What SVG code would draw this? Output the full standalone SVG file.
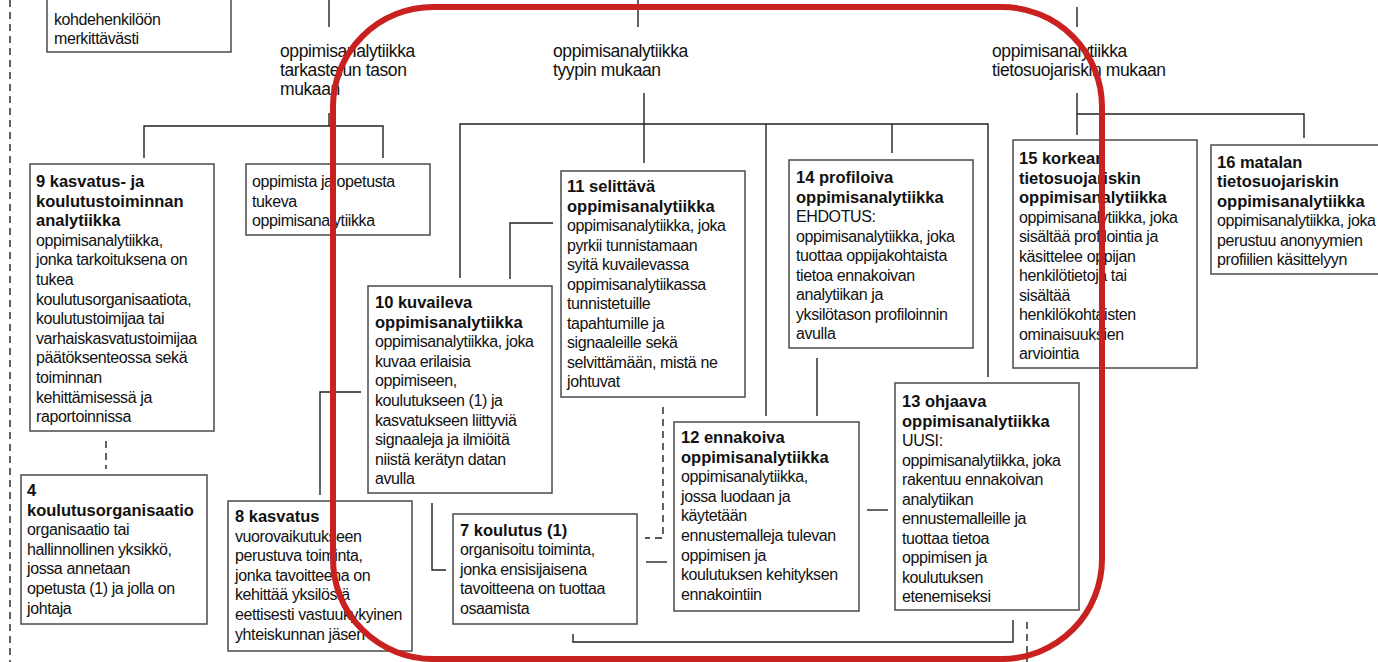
<svg xmlns="http://www.w3.org/2000/svg" width="1378" height="662" viewBox="0 0 1378 662">
<style>
text { font-family: "Liberation Sans", Arial, sans-serif; font-size: 16px; letter-spacing: -0.4px; fill: #111; }
.lbl { font-size: 17.5px; }
.b { font-weight: bold; font-size: 16.5px; letter-spacing: 0px; }
.box { fill: #fff; stroke: #4a4a4a; stroke-width: 1.5; }
.ln { fill: none; stroke: #222; stroke-width: 1.4; }
.d { fill: none; stroke: #222; stroke-width: 1.4; stroke-dasharray: 7 5; }
.red { fill: none; stroke: #c8211f; stroke-width: 6; }
</style>
<rect width="1378" height="662" fill="#fff"/>
<g id="connectors">
<path class="d" d="M10,0 V662"/>
<path class="ln" d="M329,0 V27"/>
<path class="ln" d="M329,113 V126 M144,158 V126 H383 V158"/>
<path class="ln" d="M638,0 V27"/>
<path class="ln" d="M644,93 V163 M460,278 V124 H988 V377 M766,124 V416 M892,124 V153"/>
<path class="ln" d="M1077,7 V27 M1077,93 V135 M1077,114 H1304 V138"/>
<path class="ln" d="M553,223 H510 V279"/>
<path class="ln" d="M361,392 H320 V495"/>
<path class="ln" d="M432,503 V570 H446"/>
<path class="d" d="M663,407 V538 H645"/>
<path class="ln" d="M646,562 H667"/>
<path class="ln" d="M817,358 V416"/>
<path class="ln" d="M867,510 H888"/>
<path class="ln" d="M573,634 V642 H1013 V620"/>
<path class="d" d="M1027,622 V662"/>
<path class="d" d="M106,441 V469"/>
</g>
<g id="node-top">
<rect class="box" x="47" y="-5" width="184" height="57"/>
<text x="54" y="25">kohdehenkilöön<tspan x="54" dy="19">merkittävästi</tspan></text>
</g>
<g id="label-taso">
<text class="lbl" x="280" y="56.5">oppimisanalytiikka<tspan x="280" dy="19">tarkastelun tason</tspan><tspan x="280" dy="19">mukaan</tspan></text>
</g>
<g id="label-tyyppi">
<text class="lbl" x="553" y="56.5">oppimisanalytiikka<tspan x="553" dy="19">tyypin mukaan</tspan></text>
</g>
<g id="label-tietosuoja">
<text class="lbl" x="992" y="56.5">oppimisanalytiikka<tspan x="992" dy="19">tietosuojariskin mukaan</tspan></text>
</g>
<g id="node-9">
<rect class="box" x="30" y="164" width="184" height="267"/>
<text x="36" y="187"><tspan class="b">9 kasvatus- ja</tspan><tspan class="b" x="36" dy="19.6">koulutustoiminnan</tspan><tspan class="b" x="36" dy="19.6">analytiikka</tspan><tspan x="36" dy="19.6">oppimisanalytiikka,</tspan><tspan x="36" dy="19.6">jonka tarkoituksena on</tspan><tspan x="36" dy="19.6">tukea</tspan><tspan x="36" dy="19.6">koulutusorganisaatiota,</tspan><tspan x="36" dy="19.6">koulutustoimijaa tai</tspan><tspan x="36" dy="19.6">varhaiskasvatustoimijaa</tspan><tspan x="36" dy="19.6">päätöksenteossa sekä</tspan><tspan x="36" dy="19.6">toiminnan</tspan><tspan x="36" dy="19.6">kehittämisessä ja</tspan><tspan x="36" dy="19.6">raportoinnissa</tspan></text>
</g>
<g id="node-tukeva">
<rect class="box" x="246" y="164" width="184" height="71"/>
<text x="252" y="187">oppimista ja opetusta<tspan x="252" dy="19.6">tukeva</tspan><tspan x="252" dy="19.6">oppimisanalytiikka</tspan></text>
</g>
<g id="node-4">
<rect class="box" x="21" y="475" width="186" height="149"/>
<text x="27" y="496"><tspan class="b">4</tspan><tspan class="b" x="27" dy="19.6">koulutusorganisaatio</tspan><tspan x="27" dy="19.6">organisaatio tai</tspan><tspan x="27" dy="19.6">hallinnollinen yksikkö,</tspan><tspan x="27" dy="19.6">jossa annetaan</tspan><tspan x="27" dy="19.6">opetusta (1) ja jolla on</tspan><tspan x="27" dy="19.6">johtaja</tspan></text>
</g>
<g id="node-8">
<rect class="box" x="228" y="501" width="184" height="150"/>
<text x="235" y="522"><tspan class="b">8 kasvatus</tspan><tspan x="235" dy="19.6">vuorovaikutukseen</tspan><tspan x="235" dy="19.6">perustuva toiminta,</tspan><tspan x="235" dy="19.6">jonka tavoitteena on</tspan><tspan x="235" dy="19.6">kehittää yksilöstä</tspan><tspan x="235" dy="19.6">eettisesti vastuukykyinen</tspan><tspan x="235" dy="19.6">yhteiskunnan jäsen</tspan></text>
</g>
<g id="node-10">
<rect class="box" x="368" y="286" width="184" height="207"/>
<text x="375" y="308"><tspan class="b">10 kuvaileva</tspan><tspan class="b" x="375" dy="19.6">oppimisanalytiikka</tspan><tspan x="375" dy="19.6">oppimisanalytiikka, joka</tspan><tspan x="375" dy="19.6">kuvaa erilaisia</tspan><tspan x="375" dy="19.6">oppimiseen,</tspan><tspan x="375" dy="19.6">koulutukseen (1) ja</tspan><tspan x="375" dy="19.6">kasvatukseen liittyviä</tspan><tspan x="375" dy="19.6">signaaleja ja ilmiöitä</tspan><tspan x="375" dy="19.6">niistä kerätyn datan</tspan><tspan x="375" dy="19.6">avulla</tspan></text>
</g>
<g id="node-7">
<rect class="box" x="453" y="514" width="184" height="110"/>
<text x="460" y="535.5"><tspan class="b">7 koulutus (1)</tspan><tspan x="460" dy="19.6">organisoitu toiminta,</tspan><tspan x="460" dy="19.6">jonka ensisijaisena</tspan><tspan x="460" dy="19.6">tavoitteena on tuottaa</tspan><tspan x="460" dy="19.6">osaamista</tspan></text>
</g>
<g id="node-11">
<rect class="box" x="561" y="171" width="184" height="226"/>
<text x="567" y="192"><tspan class="b">11 selittävä</tspan><tspan class="b" x="567" dy="19.5">oppimisanalytiikka</tspan><tspan x="567" dy="19.5">oppimisanalytiikka, joka</tspan><tspan x="567" dy="19.5">pyrkii tunnistamaan</tspan><tspan x="567" dy="19.5">syitä kuvailevassa</tspan><tspan x="567" dy="19.5">oppimisanalytiikassa</tspan><tspan x="567" dy="19.5">tunnistetuille</tspan><tspan x="567" dy="19.5">tapahtumille ja</tspan><tspan x="567" dy="19.5">signaaleille sekä</tspan><tspan x="567" dy="19.5">selvittämään, mistä ne</tspan><tspan x="567" dy="19.5">johtuvat</tspan></text>
</g>
<g id="node-12">
<rect class="box" x="674" y="422" width="185" height="189"/>
<text x="681" y="443"><tspan class="b">12 ennakoiva</tspan><tspan class="b" x="681" dy="19.6">oppimisanalytiikka</tspan><tspan x="681" dy="19.6">oppimisanalytiikka,</tspan><tspan x="681" dy="19.6">jossa luodaan ja</tspan><tspan x="681" dy="19.6">käytetään</tspan><tspan x="681" dy="19.6">ennustemalleja tulevan</tspan><tspan x="681" dy="19.6">oppimisen ja</tspan><tspan x="681" dy="19.6">koulutuksen kehityksen</tspan><tspan x="681" dy="19.6">ennakointiin</tspan></text>
</g>
<g id="node-14">
<rect class="box" x="789" y="160" width="184" height="188"/>
<text x="796" y="183"><tspan class="b">14 profiloiva</tspan><tspan class="b" x="796" dy="19.5">oppimisanalytiikka</tspan><tspan x="796" dy="19.5">EHDOTUS:</tspan><tspan x="796" dy="19.5">oppimisanalytiikka, joka</tspan><tspan x="796" dy="19.5">tuottaa oppijakohtaista</tspan><tspan x="796" dy="19.5">tietoa ennakoivan</tspan><tspan x="796" dy="19.5">analytiikan ja</tspan><tspan x="796" dy="19.5">yksilötason profiloinnin</tspan><tspan x="796" dy="19.5">avulla</tspan></text>
</g>
<g id="node-13">
<rect class="box" x="895" y="383" width="184" height="227"/>
<text x="902" y="407"><tspan class="b">13 ohjaava</tspan><tspan class="b" x="902" dy="19.5">oppimisanalytiikka</tspan><tspan x="902" dy="19.5">UUSI:</tspan><tspan x="902" dy="19.5">oppimisanalytiikka, joka</tspan><tspan x="902" dy="19.5">rakentuu ennakoivan</tspan><tspan x="902" dy="19.5">analytiikan</tspan><tspan x="902" dy="19.5">ennustemalleille ja</tspan><tspan x="902" dy="19.5">tuottaa tietoa</tspan><tspan x="902" dy="19.5">oppimisen ja</tspan><tspan x="902" dy="19.5">koulutuksen</tspan><tspan x="902" dy="19.5">etenemiseksi</tspan></text>
</g>
<g id="node-15">
<rect class="box" x="1013" y="140" width="184" height="228"/>
<text x="1019" y="164"><tspan class="b">15 korkean</tspan><tspan class="b" x="1019" dy="19.5">tietosuojariskin</tspan><tspan class="b" x="1019" dy="19.5">oppimisanalytiikka</tspan><tspan x="1019" dy="19.5">oppimisanalytiikka, joka</tspan><tspan x="1019" dy="19.5">sisältää profilointia ja</tspan><tspan x="1019" dy="19.5">käsittelee oppijan</tspan><tspan x="1019" dy="19.5">henkilötietoja tai</tspan><tspan x="1019" dy="19.5">sisältää</tspan><tspan x="1019" dy="19.5">henkilökohtaisten</tspan><tspan x="1019" dy="19.5">ominaisuuksien</tspan><tspan x="1019" dy="19.5">arviointia</tspan></text>
</g>
<g id="node-16">
<rect class="box" x="1211" y="145" width="175" height="129"/>
<text x="1217" y="167.5"><tspan class="b">16 matalan</tspan><tspan class="b" x="1217" dy="19.5">tietosuojariskin</tspan><tspan class="b" x="1217" dy="19.5">oppimisanalytiikka</tspan><tspan x="1217" dy="19.5">oppimisanalytiikka, joka</tspan><tspan x="1217" dy="19.5">perustuu anonyymien</tspan><tspan x="1217" dy="19.5">profiilien käsittelyyn</tspan></text>
</g>
<g id="highlight">
<rect class="red" x="333" y="7" width="769" height="652" rx="100" ry="100"/>
</g>
</svg>
